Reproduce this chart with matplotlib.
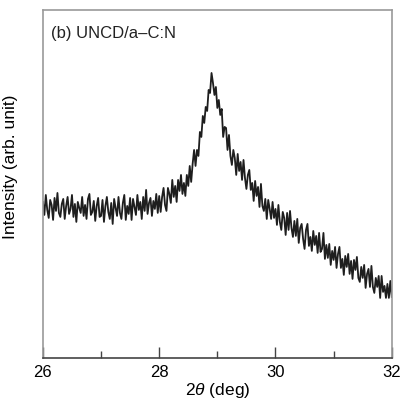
import numpy as np
import matplotlib
matplotlib.use("Agg")
import matplotlib.pyplot as plt
from matplotlib.ticker import MultipleLocator

plt.rcParams["font.family"] = ["Liberation Sans", "DejaVu Sans"]
plt.rcParams["mathtext.fontset"] = "custom"
plt.rcParams["mathtext.rm"] = "Liberation Sans"
plt.rcParams["mathtext.it"] = "Liberation Sans:italic"

# scan range, 0.025 deg steps
two_theta_start = 26.0
two_theta_stop = 32.0

# intensity (arb. unit), one row per degree
seg_26 = [153, 140, 160, 145, 137, 155, 150, 135, 157, 144, 162, 142, 138, 151, 156, 136, 149, 158, 141, 146,
          160, 138, 151, 133, 153, 147, 142, 158, 139, 150, 136, 156, 161, 140, 143, 154, 134, 149, 157, 138]
seg_27 = [139, 155, 133, 149, 158, 143, 136, 152, 131, 156, 147, 139, 158, 142, 136, 152, 160, 135, 149, 141,
          157, 135, 156, 148, 140, 160, 145, 153, 136, 158, 144, 165, 141, 152, 157, 139, 154, 146, 161, 142]
seg_28 = [159, 143, 158, 167, 150, 144, 167, 161, 152, 175, 158, 169, 153, 175, 164, 180, 161, 172, 159, 180,
          169, 189, 173, 191, 205, 189, 205, 199, 223, 218, 239, 232, 248, 244, 265, 262, 282, 272, 260, 268]
seg_29 = [247, 255, 240, 246, 218, 228, 227, 205, 220, 199, 190, 205, 197, 180, 201, 184, 193, 175, 195, 177,
          166, 180, 185, 165, 172, 154, 174, 159, 168, 148, 171, 149, 144, 156, 136, 155, 146, 136, 153, 137]
seg_30 = [146, 130, 150, 133, 125, 143, 137, 120, 142, 125, 144, 127, 118, 134, 119, 136, 112, 127, 131, 116,
          106, 125, 131, 109, 118, 104, 124, 110, 119, 102, 122, 103, 106, 122, 96, 110, 97, 111, 90, 104]
seg_31 = [95, 108, 87, 101, 108, 87, 96, 80, 99, 88, 101, 81, 94, 76, 95, 85, 98, 77, 73, 88,
          77, 90, 67, 81, 86, 68, 89, 68, 62, 77, 68, 79, 57, 79, 63, 69, 57, 71, 57, 74, 58]

intensity = np.array(seg_26 + seg_27 + seg_28 + seg_29 + seg_30 + seg_31, dtype=float)
two_theta = np.linspace(two_theta_start, two_theta_stop, len(intensity))

fig = plt.figure(figsize=(4.01, 3.99), dpi=100)
ax = fig.add_axes([0.107, 0.103, 0.870, 0.872])

ax.plot(two_theta, intensity, color="#1e1e1e", lw=1.3)

ax.set_xlim(26, 32)
ax.set_ylim(-3, 345)
ax.set_xticks([26, 28, 30, 32])
ax.xaxis.set_minor_locator(MultipleLocator(1))
ax.set_yticks([])
ax.tick_params(axis="x", which="major", direction="in", length=8, width=1,
               color="#444444", labelsize=12, pad=5, top=False)
ax.tick_params(axis="x", which="minor", direction="in", length=5, width=1,
               color="#444444", top=False)

for side in ["top", "right", "left"]:
    ax.spines[side].set_color("#9a9a9a")
    ax.spines[side].set_linewidth(1.2)
ax.spines["bottom"].set_color("#444444")
ax.spines["bottom"].set_linewidth(1.2)

ax.set_xlabel(r"2$\it{\theta}$ (deg)", fontsize=12.5, labelpad=1)
ax.set_ylabel("Intensity (arb. unit)", fontsize=12.5)
ax.yaxis.set_label_coords(-0.07, 0.55)

ax.text(0.022, 0.955, "(b) UNCD/a\u2013C:N", transform=ax.transAxes,
        fontsize=12, color="#222222", va="top", ha="left")

fig.savefig("out.png", dpi=100)
